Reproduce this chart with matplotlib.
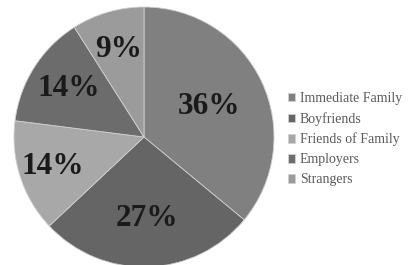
import numpy as np
import matplotlib.pyplot as plt

labels = ["Immediate Family", "Boyfriends", "Friends of Family", "Employers", "Strangers"]
values = [36, 27, 14, 14, 9]
colors = ["#808080", "#656565", "#a8a8a8", "#6c6c6c", "#9b9b9b"]
label_dist = [0.55, 0.63, 0.74, 0.69, 0.70]

fig = plt.figure(figsize=(4.13, 2.65), dpi=100)
ax = fig.add_axes([14 / 413, -2 / 265, 260 / 413, 260 / 265])

wedges, texts, autotexts = ax.pie(
    values, colors=colors, startangle=90, counterclock=False,
    autopct="%d%%", pctdistance=0.65,
    wedgeprops=dict(edgecolor="#d0d0d0", linewidth=0.6),
    textprops=dict(family="Liberation Serif", fontweight="bold",
                   fontsize=22.5, color="#1a1a1a"),
)
# per-slice label distance
for w, t, d in zip(wedges, autotexts, label_dist):
    ang = np.deg2rad((w.theta1 + w.theta2) / 2)
    t.set_position((d * np.cos(ang), d * np.sin(ang)))
ax.set_xlim(-1, 1)
ax.set_ylim(-1, 1)
ax.set_aspect("equal")

leg = fig.legend(wedges, labels, loc="center left", bbox_to_anchor=(0.697, 0.475),
                 frameon=False, handlelength=0.55, handleheight=0.55,
                 handletextpad=0.3, labelspacing=0.5, borderpad=0,
                 borderaxespad=0,
                 prop=dict(family="Liberation Serif", size=10))
for t in leg.get_texts():
    t.set_color("#5a5a5a")

fig.savefig("out.png", dpi=100)
